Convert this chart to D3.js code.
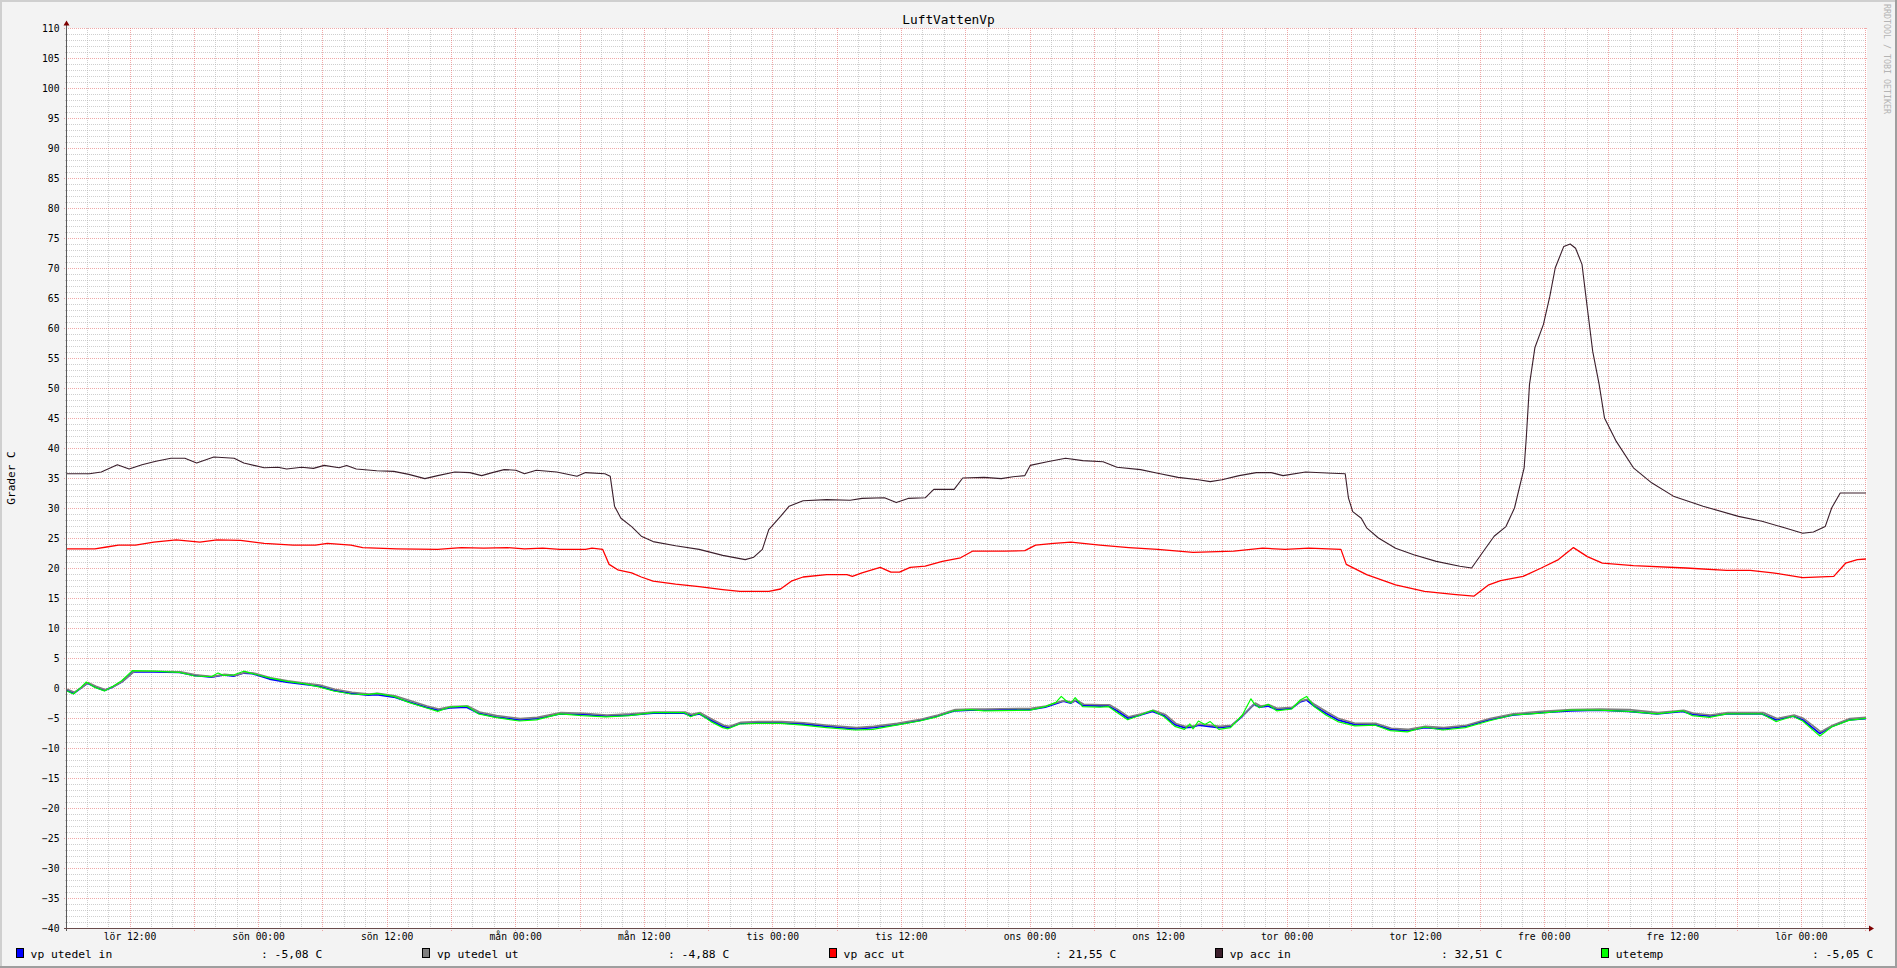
<!DOCTYPE html>
<html>
<head>
<meta charset="utf-8">
<script src="https://cdn.jsdelivr.net/npm/d3@7"></script>
<style>
  html, body { margin: 0; padding: 0; background: #f3f3f3; }
  svg { display: block; }
  text { font-family: "DejaVu Sans Mono", monospace; }
</style>
</head>
<body>
<svg id="chart" width="1897" height="968"></svg>
<script>
// ---------------- DATA ----------------
const chartTitle = "LuftVattenVp";
const yAxisTitle = "Grader C";
const watermark = "RRDTOOL / TOBI OETIKER";

// time origin of the graph (Saturday 06:10) and span in hours
const startTime = "2021-01-16T06:10:00Z";
const spanHours = 168;

const yTicks = [110,105,100,95,90,85,80,75,70,65,60,55,50,45,40,35,30,25,20,15,10,5,0,-5,-10,-15,-20,-25,-30,-35,-40];
const xTickLabels = ["lör 12:00","sön 00:00","sön 12:00","mån 00:00","mån 12:00","tis 00:00","tis 12:00",
                     "ons 00:00","ons 12:00","tor 00:00","tor 12:00","fre 00:00","fre 12:00","lör 00:00"];

const seriesNames  = ["vp utedel in","vp utedel ut","vp acc ut","vp acc in","utetemp"];
const seriesColors = ["#0000ff","#808080","#ff0000","#3b1e2b","#00ff00"];
const legendValues = [": -5,08 C",": -4,88 C",": 21,55 C",": 32,51 C",": -5,05 C"];

// [hours since start, °C]
const vpUtedelIn = [[0,-0.4],[0.6,-0.9],[1.3,0],[1.9,0.8],[2.6,0.2],[3.5,-0.4],[4.3,0.2],[5.1,1.0],[6.2,2.7],[8.1,2.7],[10.5,2.6],[11.9,2.1],[13.5,1.8],[14.6,2.2],[15.6,2.0],[16.5,2.5],[17.3,2.4],[18.9,1.5],[20.5,1.0],[22.2,0.6],[23.5,0.3],[24.9,-0.4],[26.5,-0.9],[28.1,-1.2],[28.9,-1.1],[30.5,-1.5],[31.9,-2.3],[33.5,-3.2],[34.6,-3.7],[35.7,-3.3],[37.3,-3.2],[38.4,-4.2],[40.0,-4.8],[42.2,-5.3],[43.8,-5.1],[46.0,-4.3],[48.1,-4.4],[50.3,-4.7],[52.5,-4.5],[54.7,-4.2],[57.6,-4.2],[58.2,-4.6],[59.0,-4.3],[60.1,-5.4],[61.2,-6.4],[61.7,-6.6],[62.8,-5.9],[64.4,-5.8],[66.6,-5.8],[68.7,-6.0],[70.9,-6.4],[73.6,-6.8],[75.2,-6.6],[77.4,-6.1],[79.6,-5.4],[81.2,-4.7],[82.8,-3.8],[84.3,-3.7],[85.6,-3.7],[89.9,-3.6],[91.3,-3.2],[92.3,-2.6],[93.0,-2.2],[93.7,-2.5],[94.1,-2.1],[94.8,-2.9],[96.4,-3.0],[97.2,-3.0],[98.0,-3.8],[99.0,-5.0],[100.2,-4.5],[101.3,-3.9],[102.4,-4.6],[103.4,-6.1],[104.3,-6.6],[105.1,-6.5],[105.6,-6.2],[107.5,-6.6],[108.6,-6.4],[109.7,-4.7],[110.8,-2.7],[111.3,-3.2],[112.1,-3.0],[112.9,-3.6],[114.3,-3.4],[115.1,-2.3],[115.7,-2.0],[116.4,-3.0],[117.5,-4.2],[118.6,-5.3],[120.2,-6.1],[122.1,-6.1],[123.5,-6.9],[125.1,-7.1],[126.7,-6.6],[128.4,-6.8],[130.5,-6.4],[132.7,-5.3],[134.9,-4.5],[137.6,-4.1],[140.3,-3.8],[143.0,-3.7],[145.7,-3.9],[148.4,-4.3],[150.8,-3.9],[151.7,-4.4],[153.3,-4.7],[154.9,-4.3],[158.2,-4.3],[159.5,-5.3],[161.1,-4.7],[162.0,-5.3],[163.6,-7.6],[164.7,-6.4],[166.3,-5.3],[167.9,-5.1]];

const vpUtedelUt = [[0,-0.2],[0.7,-0.7],[1.4,0.1],[2.0,0.9],[2.7,0.3],[3.6,-0.3],[4.4,0.3],[5.2,1.1],[6.3,2.8],[8.2,2.8],[10.6,2.7],[12.0,2.2],[13.6,1.9],[14.7,2.3],[15.7,2.1],[16.6,2.6],[17.4,2.5],[19.0,1.7],[20.6,1.2],[22.3,0.8],[23.6,0.5],[25.0,-0.2],[26.6,-0.7],[28.2,-1.0],[29.0,-0.9],[30.6,-1.3],[32.0,-2.1],[33.6,-3.0],[34.7,-3.5],[35.8,-3.1],[37.4,-3.0],[38.5,-4.0],[40.1,-4.6],[42.3,-5.1],[43.9,-4.9],[46.1,-4.1],[48.2,-4.2],[50.4,-4.5],[52.6,-4.3],[54.8,-4.0],[57.7,-4.0],[58.3,-4.4],[59.1,-4.1],[60.2,-5.2],[61.3,-6.2],[61.8,-6.4],[62.9,-5.7],[64.5,-5.6],[66.7,-5.6],[68.8,-5.8],[71.0,-6.2],[73.7,-6.6],[75.3,-6.4],[77.5,-5.9],[79.7,-5.2],[81.3,-4.5],[82.9,-3.6],[84.4,-3.5],[85.7,-3.5],[90.0,-3.4],[91.4,-3.0],[92.4,-2.4],[93.1,-2.1],[93.8,-2.4],[94.2,-2.0],[94.9,-2.7],[96.5,-2.8],[97.3,-2.8],[98.1,-3.6],[99.1,-4.8],[100.3,-4.3],[101.4,-3.7],[102.5,-4.4],[103.5,-5.9],[104.4,-6.4],[105.2,-6.3],[105.7,-6.0],[107.6,-6.4],[108.7,-6.2],[109.8,-4.5],[110.9,-2.5],[111.4,-3.0],[112.2,-2.8],[113.0,-3.4],[114.4,-3.2],[115.2,-2.1],[115.8,-1.9],[116.5,-2.8],[117.6,-4.0],[118.7,-5.1],[120.3,-5.9],[122.2,-5.9],[123.6,-6.7],[125.2,-6.9],[126.8,-6.4],[128.5,-6.6],[130.6,-6.2],[132.8,-5.1],[135.0,-4.3],[137.7,-3.9],[140.4,-3.6],[143.1,-3.5],[145.8,-3.6],[148.5,-4.1],[150.9,-3.7],[151.8,-4.2],[153.4,-4.5],[155.0,-4.1],[158.3,-4.1],[159.6,-5.1],[161.2,-4.5],[162.1,-5.1],[163.7,-7.3],[164.8,-6.2],[166.4,-5.1],[167.9,-4.9]];

const vpAccUt = [[0,23.2],[2.6,23.2],[3.7,23.5],[4.8,23.8],[6.4,23.8],[8.1,24.3],[10.2,24.7],[12.4,24.3],[14.0,24.7],[16.2,24.6],[18.4,24.1],[21.1,23.8],[23.2,23.8],[24.3,24.1],[26.5,23.8],[27.6,23.4],[30.8,23.2],[34.6,23.1],[36.8,23.4],[38.9,23.3],[41.1,23.4],[42.7,23.2],[44.4,23.3],[46.0,23.1],[48.4,23.1],[49.0,23.3],[50.0,23.1],[50.6,20.6],[51.4,19.7],[52.7,19.2],[53.6,18.5],[54.7,17.8],[56.8,17.3],[59.0,16.9],[61.2,16.4],[62.8,16.1],[65.5,16.1],[66.6,16.5],[67.6,17.8],[68.7,18.5],[70.9,18.9],[72.8,18.9],[73.3,18.6],[74.2,19.2],[75.9,20.1],[76.9,19.3],[77.7,19.3],[78.7,20.1],[80.1,20.3],[81.7,21.1],[83.4,21.7],[84.5,22.8],[87.5,22.8],[89.4,22.9],[90.4,23.8],[92.1,24.1],[93.7,24.3],[96.4,23.8],[99.1,23.4],[101.8,23.1],[105.1,22.6],[108.9,22.8],[111.6,23.3],[113.7,23.1],[115.9,23.3],[118.9,23.1],[119.4,20.6],[121.3,18.9],[124.0,17.2],[126.7,16.1],[129.4,15.6],[131.3,15.3],[132.7,17.2],[133.8,17.9],[135.9,18.6],[137.6,20.0],[139.2,21.4],[140.6,23.4],[141.9,21.9],[143.3,20.8],[146.2,20.4],[151.1,20.0],[154.9,19.6],[157.1,19.6],[159.2,19.2],[162.0,18.4],[164.9,18.6],[166.0,20.8],[167.1,21.4],[167.9,21.5]];

const vpAccIn = [[0,35.7],[2.1,35.7],[3.2,36.0],[4.7,37.2],[5.8,36.5],[7.0,37.2],[8.3,37.8],[9.7,38.3],[11.0,38.3],[12.1,37.5],[13.7,38.5],[15.6,38.3],[16.5,37.5],[18.4,36.7],[19.7,36.8],[20.5,36.5],[21.9,36.8],[23.0,36.6],[24.0,37.1],[25.4,36.7],[26.1,37.1],[27.0,36.5],[28.9,36.2],[30.5,36.1],[31.9,35.6],[33.4,34.9],[34.6,35.4],[36.2,36.0],[37.6,35.9],[38.7,35.4],[39.7,35.9],[40.8,36.4],[41.9,36.3],[42.7,35.7],[43.8,36.3],[45.7,36.0],[47.6,35.3],[48.4,35.9],[50.2,35.7],[50.7,35.3],[51.1,30.3],[51.7,28.3],[52.7,26.9],[53.6,25.3],[54.7,24.4],[56.8,23.7],[59.0,23.1],[61.2,22.1],[63.3,21.4],[64.1,21.8],[64.9,23.1],[65.5,26.4],[66.6,28.6],[67.4,30.3],[68.7,31.2],[70.9,31.4],[73.1,31.3],[74.2,31.6],[76.3,31.7],[77.4,30.9],[78.5,31.6],[80.1,31.7],[80.9,33.1],[82.8,33.1],[83.6,35.0],[85.6,35.1],[87.2,34.9],[88.3,35.2],[89.4,35.4],[89.9,37.1],[91.5,37.7],[93.2,38.3],[94.8,37.9],[96.7,37.7],[98.0,36.8],[100.2,36.4],[101.8,35.8],[103.7,35.1],[105.6,34.7],[106.7,34.4],[107.8,34.7],[109.4,35.4],[111.0,35.9],[112.4,35.9],[113.5,35.4],[115.6,36.0],[118.1,35.8],[119.3,35.7],[119.6,31.7],[120.0,29.4],[120.8,28.3],[121.3,26.7],[122.4,25.0],[124.0,23.3],[125.7,22.2],[127.8,21.1],[130.0,20.3],[131.1,20.0],[132.2,22.8],[133.2,25.3],[134.3,26.9],[135.1,30.0],[136.0,36.7],[136.2,41.7],[136.5,50.6],[137.0,56.7],[137.8,60.6],[138.4,65.3],[138.9,70.0],[139.7,73.6],[140.3,74.0],[140.8,73.3],[141.4,70.6],[141.9,63.3],[142.4,56.1],[143.0,50.6],[143.5,45.0],[144.6,41.1],[146.2,36.7],[147.9,34.2],[150.0,31.9],[152.7,30.3],[156.0,28.6],[158.2,27.8],[160.3,26.7],[162.0,25.8],[163.0,26.0],[164.1,26.9],[164.7,30.0],[165.5,32.5],[167.9,32.5]];

const utetemp = [[0,-0.5],[0.6,-1.0],[1.3,0.1],[1.8,1.0],[2.6,0.1],[3.5,-0.5],[4.3,0.3],[5.1,1.2],[6.1,2.9],[8.1,2.8],[10.5,2.6],[11.9,2.0],[13.5,1.9],[14.1,2.5],[14.6,2.1],[15.6,2.2],[16.5,2.8],[17.3,2.4],[18.9,1.7],[20.5,1.1],[22.2,0.7],[23.5,0.2],[24.9,-0.5],[26.5,-1.0],[28.1,-1.1],[28.9,-0.9],[30.5,-1.4],[31.9,-2.4],[33.5,-3.3],[34.6,-3.9],[35.7,-3.2],[37.3,-3.0],[38.4,-4.3],[40.0,-4.9],[42.2,-5.5],[43.8,-5.3],[46.0,-4.3],[48.1,-4.6],[50.3,-4.8],[52.5,-4.6],[54.7,-4.1],[57.6,-4.1],[58.2,-4.8],[59.0,-4.2],[60.1,-5.6],[61.2,-6.6],[61.7,-6.8],[62.8,-6.0],[64.4,-5.9],[66.6,-5.9],[68.7,-6.2],[70.9,-6.6],[73.6,-7.0],[75.2,-6.9],[77.4,-6.2],[79.6,-5.5],[81.2,-4.8],[82.8,-3.8],[84.3,-3.6],[85.6,-3.8],[89.9,-3.7],[91.3,-3.1],[92.3,-2.4],[92.8,-1.4],[93.3,-2.2],[93.7,-2.5],[94.1,-1.6],[94.8,-3.1],[96.4,-3.2],[97.2,-3.1],[98.0,-4.1],[99.0,-5.3],[100.2,-4.5],[101.3,-3.7],[102.4,-4.8],[103.4,-6.4],[104.3,-6.9],[104.8,-6.0],[105.1,-6.8],[105.6,-5.5],[106.2,-6.1],[106.7,-5.6],[107.5,-6.9],[108.6,-6.6],[109.7,-4.5],[110.5,-1.8],[110.8,-2.6],[111.3,-3.3],[112.1,-2.7],[112.9,-3.8],[114.3,-3.5],[115.1,-2.0],[115.7,-1.4],[116.4,-3.1],[117.5,-4.5],[118.6,-5.6],[120.2,-6.3],[122.1,-6.2],[123.5,-7.1],[125.1,-7.3],[126.7,-6.5],[128.4,-7.0],[130.5,-6.6],[132.7,-5.5],[134.9,-4.5],[137.6,-4.2],[140.3,-3.7],[143.0,-3.7],[145.7,-3.9],[148.4,-4.3],[150.8,-3.8],[151.7,-4.6],[153.3,-4.9],[154.9,-4.3],[158.2,-4.3],[159.5,-5.6],[161.1,-4.7],[162.0,-5.5],[163.6,-8.0],[164.7,-6.5],[166.3,-5.4],[167.9,-5.05]];

const allSeries = [vpUtedelIn, vpUtedelUt, vpAccUt, vpAccIn, utetemp];
const seriesWidths = [1.8, 1.6, 1.3, 1.1, 1.2];

// ---------------- CHART ----------------
const W = 1897, H = 968;
const X0 = 67, X1 = 1867, YT = 28, YB = 928;
const t0 = new Date(startTime).getTime();
const toDate = h => new Date(t0 + h * 3600e3);

const x = d3.scaleUtc().domain([toDate(0), toDate(spanHours)]).range([X0, X1]);
const y = d3.scaleLinear().domain([-40, 110]).range([YB, YT]);

const svg = d3.select("#chart");

// canvas + 3D frame
svg.append("rect").attr("x",0).attr("y",0).attr("width",W).attr("height",H).attr("fill","#f3f3f3");
svg.append("rect").attr("x",0).attr("y",0).attr("width",W).attr("height",2).attr("fill","#cfcfcf");
svg.append("rect").attr("x",0).attr("y",0).attr("width",2).attr("height",H).attr("fill","#cfcfcf");
svg.append("rect").attr("x",0).attr("y",H-2).attr("width",W).attr("height",2).attr("fill","#9e9e9e");
svg.append("rect").attr("x",W-2).attr("y",0).attr("width",2).attr("height",H).attr("fill","#9e9e9e");

// plot area
svg.append("rect").attr("x",X0).attr("y",YT).attr("width",X1-X0).attr("height",YB-YT).attr("fill","#ffffff");

const minorCol = "rgba(175,175,175,0.6)";
const majorCol = "rgba(232,110,110,0.6)";
const grid = svg.append("g").attr("shape-rendering","crispEdges");

// horizontal minor grid (every 1 unit)
const yMinor = d3.range(-40, 111, 1).filter(v => v % 5 !== 0);
grid.selectAll(".hmin").data(yMinor).join("line")
  .attr("x1", X0-2).attr("x2", X1)
  .attr("y1", d => Math.round(y(d))+0.5).attr("y2", d => Math.round(y(d))+0.5)
  .attr("stroke", minorCol).attr("stroke-dasharray","1,1");

// vertical minor grid (every 2 hours)
const xMinor = x.ticks(d3.utcHour.every(2)).filter(d => d.getUTCHours() % 6 !== 0);
grid.selectAll(".vmin").data(xMinor).join("line")
  .attr("x1", d => Math.round(x(d))+0.5).attr("x2", d => Math.round(x(d))+0.5)
  .attr("y1", YT).attr("y2", YB+2)
  .attr("stroke", minorCol).attr("stroke-dasharray","1,1");

// horizontal major grid
grid.selectAll(".hmaj").data(yTicks).join("line")
  .attr("x1", X0-3).attr("x2", X1)
  .attr("y1", d => Math.round(y(d))+0.5).attr("y2", d => Math.round(y(d))+0.5)
  .attr("stroke", majorCol).attr("stroke-dasharray","1,1");

// vertical major grid (every 6 hours)
const xMajor = x.ticks(d3.utcHour.every(6));
grid.selectAll(".vmaj").data(xMajor).join("line")
  .attr("x1", d => Math.round(x(d))+0.5).attr("x2", d => Math.round(x(d))+0.5)
  .attr("y1", YT).attr("y2", YB+3)
  .attr("stroke", majorCol).attr("stroke-dasharray","1,1");

// y axis labels
const yAxis = d3.axisLeft(y).tickValues(yTicks).tickSize(0).tickPadding(7.5);
const gy = svg.append("g").attr("transform", `translate(${X0},0)`).call(yAxis);
gy.select(".domain").remove();
gy.selectAll("text").attr("font-family","DejaVu Sans Mono").attr("font-size","9.7px").attr("fill","#000");

// x axis labels (every 12 h)
const x12 = x.ticks(d3.utcHour.every(12));
const xAxis = d3.axisBottom(x).tickValues(x12).tickFormat((d,i) => xTickLabels[i]).tickSize(0).tickPadding(5);
const gx = svg.append("g").attr("transform", `translate(0,${YB})`).call(xAxis);
gx.select(".domain").remove();
gx.selectAll("text").attr("font-family","DejaVu Sans Mono").attr("font-size","9.7px").attr("fill","#000");

// series lines
const line = d3.line().x(d => x(toDate(d[0]))).y(d => y(d[1]));
allSeries.forEach((s, i) => {
  svg.append("path").datum(s)
    .attr("d", line)
    .attr("fill","none")
    .attr("stroke", seriesColors[i])
    .attr("stroke-width", seriesWidths[i])
    .attr("stroke-linejoin","round");
});

// axes lines + arrows
const axisCol = "#5a5a5a";
svg.append("line").attr("x1", X0-0.5).attr("x2", X0-0.5).attr("y1", YB+3).attr("y2", YT-6)
  .attr("stroke", axisCol).attr("stroke-width",1).attr("shape-rendering","crispEdges");
svg.append("line").attr("x1", X0-3).attr("x2", X1+4).attr("y1", YB+0.5).attr("y2", YB+0.5)
  .attr("stroke", "#6a4a4a").attr("stroke-width",1).attr("shape-rendering","crispEdges");
svg.append("path").attr("d", `M${X0-3.5},${YT-2.5} L${X0+2.5},${YT-2.5} L${X0-0.5},${YT-7.5} Z`).attr("fill","#7f0000");
svg.append("path").attr("d", `M${X1+2},${YB-2.5} L${X1+2},${YB+3.5} L${X1+7},${YB+0.5} Z`).attr("fill","#7f0000");

// title
svg.append("text").attr("x", W/2).attr("y", 24).attr("text-anchor","middle")
  .attr("font-size","12.8px").attr("fill","#000").text(chartTitle);

// y axis title
svg.append("text").attr("transform", `translate(14.5,${(YT+YB)/2}) rotate(-90)`)
  .attr("text-anchor","middle").attr("font-size","11.1px").attr("fill","#000").text(yAxisTitle);

// watermark
svg.append("text").attr("transform", `translate(1884,4) rotate(90)`)
  .attr("text-anchor","start").attr("font-size","8.3px").attr("fill","#b4b4b4").text(watermark);

// legend
const legSwatchX = [15.6, 422, 828.6, 1214.7, 1600.8];
const legValueX  = [261, 668, 1055, 1441, 1812];
const legend = svg.append("g");
seriesNames.forEach((name, i) => {
  legend.append("rect").attr("x", legSwatchX[i]+0.5).attr("y", 948.5).attr("width", 7).attr("height", 9)
    .attr("fill", seriesColors[i]).attr("stroke","#000").attr("stroke-width",1).attr("shape-rendering","crispEdges");
  legend.append("text").attr("x", legSwatchX[i]+15).attr("y", 957.5)
    .attr("font-size","11.3px").attr("fill","#000").text(name);
  legend.append("text").attr("x", legValueX[i]).attr("y", 957.5)
    .attr("font-size","11.3px").attr("fill","#000").attr("xml:space","preserve").text(legendValues[i]);
});
</script>
</body>
</html>
